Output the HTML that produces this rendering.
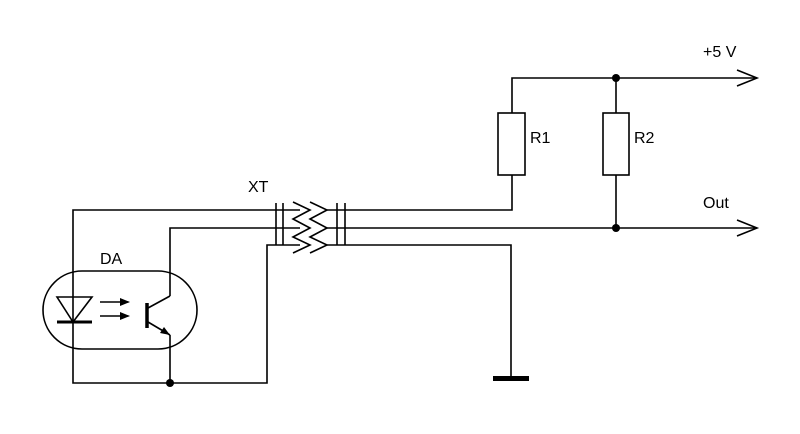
<!DOCTYPE html>
<html><head><style>body{margin:0;background:#fff}svg{display:block}text{font-family:"Liberation Sans",Arial,sans-serif;font-size:16px;fill:#000}</style></head><body>
<svg width="800" height="434" viewBox="0 0 800 434" xmlns="http://www.w3.org/2000/svg">
<g stroke="#000" stroke-width="1.6" fill="none">
<polyline points="300,210 73,210 73,383 267,383 267,245 300,245"/>
<polyline points="300,228 170,228 170,296"/>
<line x1="170" y1="335" x2="170" y2="383"/>
<rect x="43" y="271" width="154" height="78" rx="39" ry="39"/>
<polygon points="57,297 92,297 73,322"/>
<line x1="57" y1="322" x2="92" y2="322" stroke-width="3"/>
<line x1="100" y1="302" x2="122" y2="302"/>
<line x1="100" y1="316" x2="122" y2="316"/>
<line x1="147" y1="303" x2="147" y2="328" stroke-width="3.5"/>
<line x1="148" y1="308" x2="170" y2="296"/>
<line x1="148" y1="322" x2="170" y2="335"/>
<line x1="276" y1="203" x2="276" y2="245"/><line x1="283" y1="203" x2="283" y2="245"/>
<line x1="337" y1="203" x2="337" y2="245"/><line x1="345" y1="203" x2="345" y2="245"/>
<polyline points="293,202 310,210 293,219 310,228 293,237 310,245 293,253"/>
<polyline points="310,202 327,210 310,219 327,228 310,237 327,245 310,253"/>
<polyline points="327,210 512,210 512,175"/>
<line x1="327" y1="228" x2="757" y2="228"/>
<polyline points="327,245 511,245 511,376"/>
<polyline points="512,113 512,78 757,78"/>
<line x1="616" y1="78" x2="616" y2="113"/>
<line x1="616" y1="175" x2="616" y2="228"/>
<rect x="498" y="113" width="27" height="62"/>
<rect x="603" y="113" width="26" height="62"/>
<polyline points="737,70 757,78 737,86"/>
<polyline points="737,220 757,228 737,236"/>
</g>
<g fill="#000">
<polygon points="120,298 130,302 120,306"/>
<polygon points="120,312 130,316 120,320"/>
<polygon points="170,335 160,333 164,327"/>
<rect x="493" y="376" width="36" height="5"/>
<circle cx="170" cy="383" r="4"/>
<circle cx="616" cy="78" r="4"/>
<circle cx="616" cy="228" r="4"/>
</g>
<text x="248" y="192">XT</text>
<text x="100" y="264">DA</text>
<text x="530" y="143">R1</text>
<text x="634" y="143">R2</text>
<text x="703" y="57">+5 V</text>
<text x="703" y="208">Out</text>
</svg>
</body></html>
